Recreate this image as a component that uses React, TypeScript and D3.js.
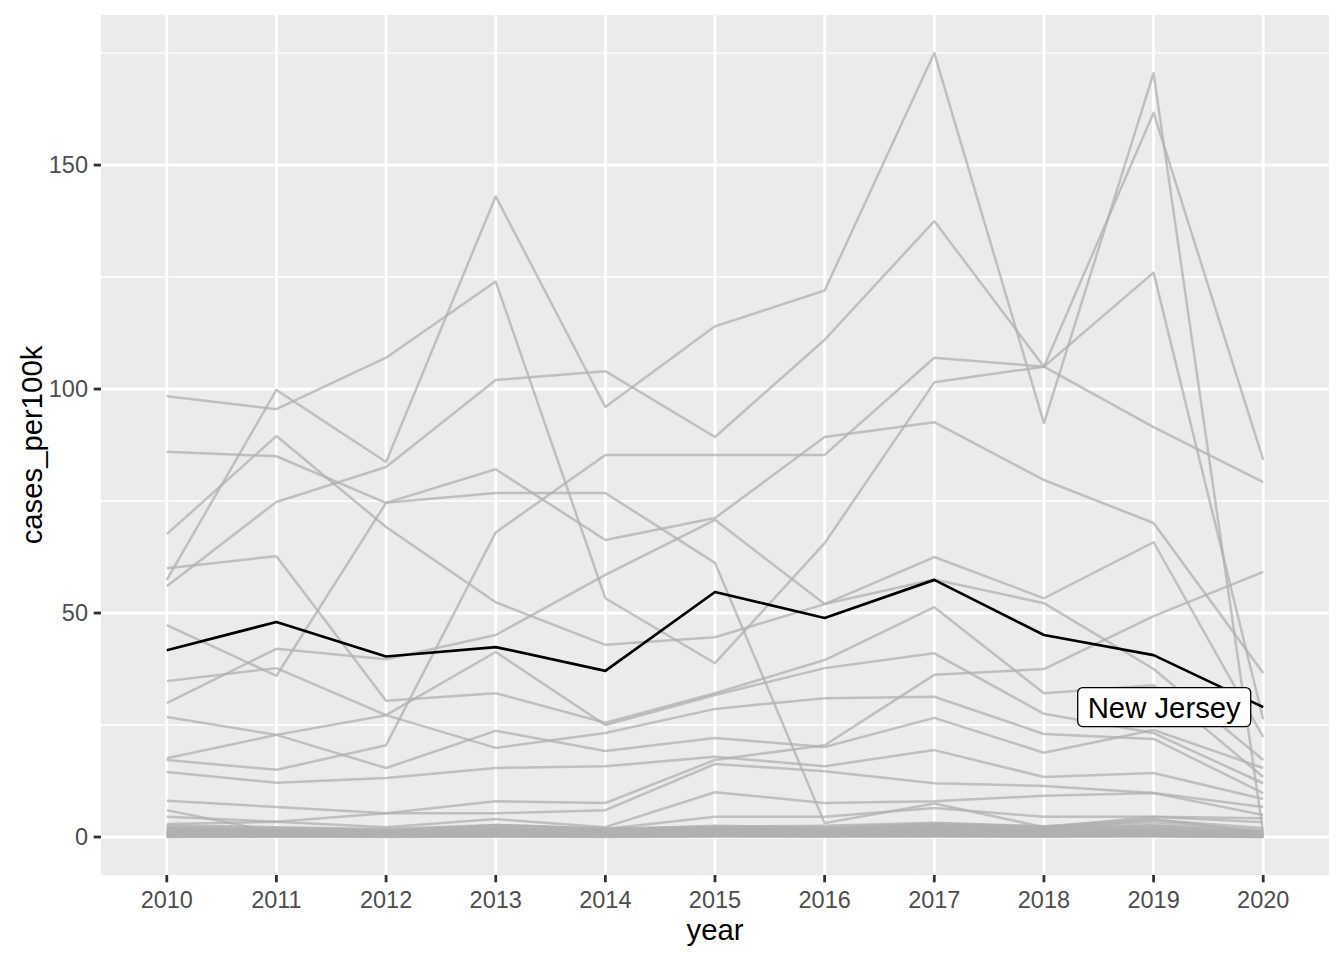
import React from "react";
import * as d3 from "d3";

// ---------- data ----------
const years = [2010, 2011, 2012, 2013, 2014, 2015, 2016, 2017, 2018, 2019, 2020];
const yTicks = [0, 50, 100, 150];
const yMinorTicks = [25, 75, 125, 175];

const highlightName = "New Jersey";
const newJersey = [41.7, 48, 40.3, 42.4, 37.1, 54.7, 48.9, 57.4, 45.1, 40.6, 29.0];

// other states (greyed out)
const stateA = [57.4, 99.8, 83.7, 143, 96, 114, 122, 175, 92.4, 170.5, 0.8];
const stateB = [98.4, 95.5, 107, 124, 53.3, 38.8, 65.6, 101.5, 105, 126, 26.3];
const stateC = [56, 74.8, 82.6, 102, 104, 89.3, 111, 137.5, 105, 161.7, 84.2];
const stateD = [17.2, 15, 20.5, 68, 85.3, 85.3, 85.3, 107, 105, 91.5, 79.2];
const stateE = [86, 85, 74.6, 76.8, 76.8, 61.2, 3.1, 7.5, 2.2, 2.5, 1.2];
const stateF = [67.6, 89.5, 69.2, 52.4, 42.9, 44.6, 52, 62.5, 53.3, 65.8, 22.3];
const stateG = [47.3, 36, 74.6, 82.1, 66.3, 71.2, 89.3, 92.6, 79.7, 70.1, 36.6];
const stateH = [29.9, 42, 39.7, 45.1, 58.5, 70.8, 52, 57.5, 52.2, 37.5, 17.2];
const stateI = [60, 62.7, 30.4, 32.1, 25.5, 32.1, 39.5, 51.3, 32.1, 33.9, 13.4];
const stateJ = [17.6, 22.8, 27.2, 41.3, 25.0, 31.7, 37.7, 41, 27.5, 23.2, 12];
const stateK = [34.8, 37.7, 27.2, 19.9, 23.2, 28.6, 31, 31.3, 23, 21.9, 9.8];
const stateL = [26.8, 22.8, 15.4, 23.7, 19.2, 22.1, 20.1, 26.6, 18.8, 23.9, 15.4];
const stateM = [14.5, 12.1, 13.2, 15.4, 15.8, 17.9, 15.8, 19.4, 13.4, 14.3, 8.5];
const stateN = [8.1, 6.7, 5.3, 8, 7.6, 17.2, 20.5, 36.2, 37.5, 49.3, 59.2];
const stateO = [4.5, 3.4, 5.3, 5.3, 6, 16.3, 14.7, 12, 11.4, 9.8, 6.7];
const stateP = [2.9, 3.4, 2.2, 4, 2.2, 10, 7.6, 8, 9.2, 9.8, 4.9];
const stateQ = [6, 1, 1.2, 2.7, 1.8, 4.5, 4.5, 6.5, 4.5, 4.5, 4.2];
const stateR = [0.2, 0.1, 0.2, 0.3, 0.2, 0.3, 0.2, 0.4, 0.3, 0.3, 0.1];
const stateS = [0.5, 0.4, 0.3, 0.6, 0.4, 0.5, 0.6, 0.7, 0.5, 0.6, 0.2];
const stateT = [1.0, 0.8, 0.7, 1.1, 0.9, 1.2, 1.0, 1.4, 1.1, 1.3, 0.4];
const stateU = [1.6, 1.3, 1.1, 1.5, 1.2, 1.8, 1.5, 2.1, 1.6, 2.0, 0.6];
const stateV = [0.1, 0.1, 0.1, 0.1, 0.1, 0.2, 0.1, 0.2, 0.1, 0.2, 0.0];
const stateW = [0.3, 0.3, 0.4, 0.4, 0.3, 0.4, 0.5, 0.5, 0.4, 0.5, 0.2];
const stateX = [0.8, 0.6, 0.6, 0.7, 0.6, 0.8, 0.9, 1.1, 0.8, 1.0, 0.3];
const stateY = [1.9, 1.7, 1.4, 2.0, 1.5, 2.2, 1.9, 2.6, 2.0, 2.7, 1.2];
const stateZ = [0.4, 0.5, 0.3, 0.5, 0.5, 0.6, 0.4, 0.6, 0.6, 0.7, 0.3];
const stateAA = [1.3, 1.1, 0.9, 1.3, 1.0, 1.4, 1.2, 1.7, 1.3, 1.6, 0.5];
const stateAB = [0.6, 0.7, 0.5, 0.8, 0.7, 0.9, 0.7, 0.9, 0.7, 0.9, 0.3];
const stateAC = [2.3, 2.0, 1.6, 2.4, 1.7, 2.5, 2.2, 3.0, 2.3, 3.3, 1.5];
const stateAD = [0.0, 0.1, 0.0, 0.1, 0.0, 0.1, 0.1, 0.1, 0.1, 0.1, 0.0];
const stateAE = [1.1, 1.2, 0.8, 1.0, 0.8, 1.0, 1.1, 1.3, 0.9, 1.2, 0.5];
const stateAF = [0.7, 0.5, 0.4, 0.6, 0.5, 0.7, 0.8, 1.0, 0.7, 0.8, 0.2];
const stateAG = [1.4, 1.6, 1.2, 1.7, 1.3, 1.5, 1.6, 1.9, 1.4, 1.8, 0.8];
const stateAH = [0.2, 0.2, 0.3, 0.2, 0.2, 0.3, 0.3, 0.3, 0.2, 0.4, 0.1];
const stateAI = [0.9, 1.0, 0.9, 1.2, 1.0, 1.1, 1.3, 1.6, 1.2, 1.5, 0.6];
const stateAJ = [2.0, 1.5, 1.3, 1.9, 1.4, 2.0, 1.7, 2.4, 1.8, 3.8, 2.0];
const stateAK = [0.5, 0.6, 0.6, 0.7, 0.6, 0.7, 0.6, 0.8, 0.6, 0.8, 0.4];
const stateAL = [1.7, 1.4, 1.0, 1.6, 1.1, 1.9, 1.8, 2.8, 2.2, 4.5, 3.3];
const stateAM = [0.3, 0.4, 0.2, 0.3, 0.4, 0.4, 0.4, 0.5, 0.3, 0.5, 0.1];
const stateAN = [1.2, 0.9, 1.0, 1.4, 1.2, 1.3, 1.4, 2.0, 1.5, 2.2, 0.9];
const stateAO = [0.8, 0.9, 0.7, 0.9, 0.8, 1.0, 1.0, 1.2, 0.9, 1.1, 0.4];
const stateAP = [0.1, 0.2, 0.2, 0.2, 0.2, 0.2, 0.2, 0.2, 0.2, 0.3, 0.1];
const stateAQ = [2.6, 2.2, 1.8, 2.7, 1.9, 2.3, 2.5, 3.2, 2.4, 4.0, 1.0];
const stateAR = [0.4, 0.3, 0.5, 0.4, 0.3, 0.5, 0.3, 0.4, 0.5, 0.4, 0.2];

const otherStates = [
  stateA, stateB, stateC, stateD, stateE, stateF, stateG, stateH, stateI, stateJ,
  stateK, stateL, stateM, stateN, stateO, stateP, stateQ, stateR, stateS, stateT,
  stateU, stateV, stateW, stateX, stateY, stateZ, stateAA, stateAB, stateAC, stateAD,
  stateAE, stateAF, stateAG, stateAH, stateAI, stateAJ, stateAK, stateAL, stateAM,
  stateAN, stateAO, stateAP, stateAQ, stateAR,
];

// ---------- layout ----------
const W = 1344;
const H = 960;
const P = { left: 101, right: 1329, top: 15, bottom: 875 };
const FONT = "'Liberation Sans', Arial, Helvetica, sans-serif";

export default function App() {
  const x = d3
    .scalePoint<number>()
    .domain(years)
    .range([P.left, P.right])
    .padding(0.6);
  const y = d3.scaleLinear().domain([-8.48, 183.5]).range([P.bottom, P.top]);

  const line = d3
    .line<number>()
    .x((_, i) => x(years[i]) as number)
    .y((d) => y(d));

  const labelCx = (x(2020) as number) - 99;
  const labelCy = y(newJersey[newJersey.length - 1]);

  return (
    <svg
      width={W}
      height={H}
      style={{ position: "absolute", left: 0, top: 0, display: "block", background: "#fff" }}
      fontFamily={FONT}
    >
      <rect x={0} y={0} width={W} height={H} fill="#ffffff" />
      {/* panel */}
      <rect x={P.left} y={P.top} width={P.right - P.left} height={P.bottom - P.top} fill="#ebebeb" />
      {/* minor grid */}
      {yMinorTicks.map((t) => (
        <line key={"mn" + t} x1={P.left} x2={P.right} y1={y(t)} y2={y(t)} stroke="#ffffff" strokeWidth={1.4} />
      ))}
      {/* major grid */}
      {yTicks.map((t) => (
        <line key={"mj" + t} x1={P.left} x2={P.right} y1={y(t)} y2={y(t)} stroke="#ffffff" strokeWidth={2.8} />
      ))}
      {years.map((yr) => (
        <line key={"vx" + yr} x1={x(yr)} x2={x(yr)} y1={P.top} y2={P.bottom} stroke="#ffffff" strokeWidth={2.8} />
      ))}

      {/* grey lines */}
      <g fill="none" stroke="#b0b0b0" strokeOpacity={0.75} strokeWidth={2.5} strokeLinejoin="round">
        {otherStates.map((vals, i) => (
          <path key={"s" + i} d={line(vals) || ""} />
        ))}
      </g>

      {/* highlighted line */}
      <path d={line(newJersey) || ""} fill="none" stroke="#000000" strokeWidth={2.7} strokeLinejoin="round" />

      {/* label */}
      <rect
        x={labelCx - 86.5}
        y={labelCy - 19.5}
        width={173}
        height={39}
        rx={5}
        ry={5}
        fill="#ffffff"
        stroke="#000000"
        strokeWidth={1.3}
      />
      <text x={labelCx} y={labelCy + 10.5} textAnchor="middle" fontSize={29.3} fill="#000000">
        {highlightName}
      </text>

      {/* y axis */}
      {yTicks.map((t) => (
        <g key={"yt" + t}>
          <line x1={P.left - 7.3} x2={P.left} y1={y(t)} y2={y(t)} stroke="#333333" strokeWidth={2.8} />
          <text x={P.left - 13} y={y(t)} dy="0.35em" textAnchor="end" fontSize={23.5} fill="#4d4d4d">
            {t}
          </text>
        </g>
      ))}
      {/* x axis */}
      {years.map((yr) => (
        <g key={"xt" + yr}>
          <line x1={x(yr)} x2={x(yr)} y1={P.bottom} y2={P.bottom + 7.3} stroke="#333333" strokeWidth={2.8} />
          <text x={x(yr)} y={908} textAnchor="middle" fontSize={23.5} fill="#4d4d4d">
            {yr}
          </text>
        </g>
      ))}

      {/* axis titles */}
      <text x={(P.left + P.right) / 2} y={940} textAnchor="middle" fontSize={29.3} fill="#000000">
        year
      </text>
      <text
        transform={`translate(42, ${(P.top + P.bottom) / 2}) rotate(-90)`}
        textAnchor="middle"
        fontSize={29.3}
        fill="#000000"
      >
        cases_per100k
      </text>
    </svg>
  );
}
